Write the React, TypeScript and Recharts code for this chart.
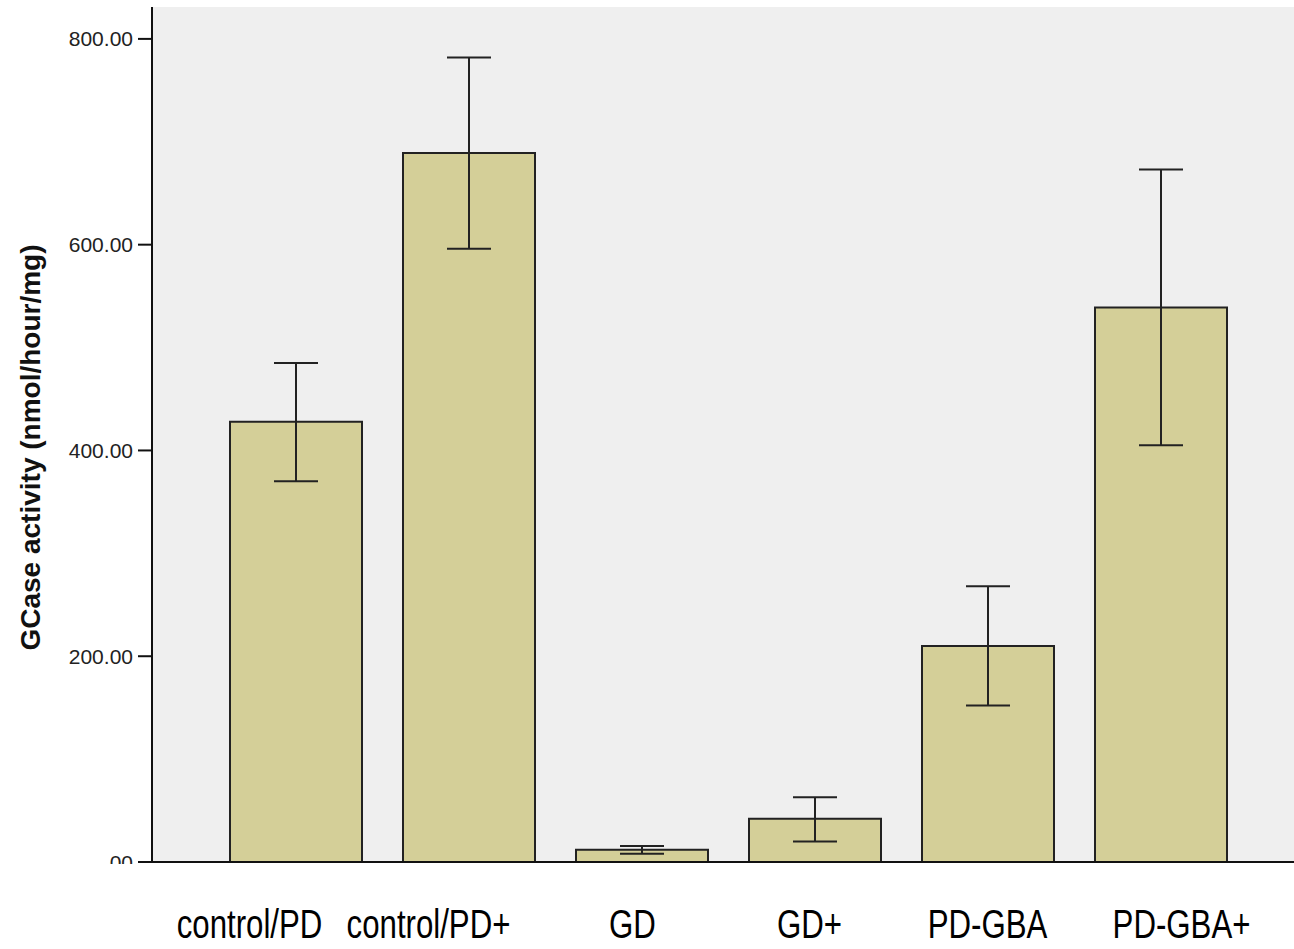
import { BarChart, Bar, XAxis, YAxis, ErrorBar, CartesianGrid, Label } from "recharts";

const GROUPS = ["control/PD", "control/PD+", "GD", "GD+", "PD-GBA", "PD-GBA+"];
const MEAN_ACTIVITY = [428, 689, 12, 42, 210, 539];
const CI_LOWER = [370, 596, 8, 20, 152, 405];
const CI_UPPER = [485, 782, 15.5, 63, 268, 673];
const Y_TICKS = [0, 200, 400, 600, 800];

// labels in the original sit a bit off the bar centres
const LABEL_SHIFT = [-46, -40, -9, -5, 0, 21];

const rows = GROUPS.map((group, i) => ({
  group,
  mean: MEAN_ACTIVITY[i],
  ci: [MEAN_ACTIVITY[i] - CI_LOWER[i], CI_UPPER[i] - MEAN_ACTIVITY[i]],
}));

const SANS = "'Liberation Sans', Arial, sans-serif";

// SPSS style: 0 -> ".00", 200 -> "200.00"
const fmt = (v: number) => (v === 0 ? ".00" : v.toFixed(2));

function GroupTick({ x, y, payload, index }: any) {
  const cx = x + (LABEL_SHIFT[index] ?? 0);
  return (
    <text
      transform={`translate(${cx} ${y + 76}) scale(0.78 1)`}
      textAnchor="middle"
      fontSize={40}
      fontFamily={SANS}
      fill="#000"
    >
      {payload.value}
    </text>
  );
}

function ValueTick({ x, y, payload }: any) {
  return (
    <g>
      <defs>
        <clipPath id={`yt-${payload.value}`}>
          <rect x={0} y={0} width={200} height={864} />
        </clipPath>
      </defs>
      <text
        x={x}
        y={y}
        dy="0.36em"
        textAnchor="end"
        fontSize={21}
        fontFamily={SANS}
        fill="#222"
        clipPath={`url(#yt-${payload.value})`}
      >
        {fmt(payload.value)}
      </text>
    </g>
  );
}

export default function App() {
  return (
    <div style={{ position: "absolute", left: 0, top: 0, background: "#fff" }}>
      <BarChart
        width={1294}
        height={949}
        data={rows}
        margin={{ top: 7, right: 0, bottom: 0, left: 0 }}
        barCategoryGap={0}
      >
        <CartesianGrid horizontal={false} vertical={false} fill="#efefef" stroke="none" />
        <XAxis
          dataKey="group"
          height={87}
          padding={{ left: 57, right: 47 }}
          tickLine={false}
          tickSize={0}
          tickMargin={0}
          axisLine={{ stroke: "#111", strokeWidth: 2 }}
          tick={<GroupTick />}
          interval={0}
        />
        <YAxis
          width={152}
          domain={[0, 831]}
          ticks={Y_TICKS}
          tickSize={14}
          tickMargin={5}
          axisLine={{ stroke: "#111", strokeWidth: 2 }}
          tickLine={{ stroke: "#111", strokeWidth: 2 }}
          tick={<ValueTick />}
        >
          <Label
            content={({ viewBox }: any) => {
              const cx = viewBox.x + 30;
              const cy = viewBox.y + viewBox.height / 2 + 13;
              return (
                <text
                  x={cx}
                  y={cy}
                  transform={`rotate(-90 ${cx} ${cy})`}
                  textAnchor="middle"
                  dominantBaseline="central"
                  fontSize={28}
                  fontWeight="bold"
                  fontFamily={SANS}
                  fill="#111"
                >
                  GCase activity (nmol/hour/mg)
                </text>
              );
            }}
          />
        </YAxis>
        <Bar
          dataKey="mean"
          fill="#d4cf98"
          stroke="#222"
          strokeWidth={2}
          barSize={132}
          isAnimationActive={false}
        >
          <ErrorBar dataKey="ci" width={22} stroke="#222" strokeWidth={2} />
        </Bar>
      </BarChart>
    </div>
  );
}
